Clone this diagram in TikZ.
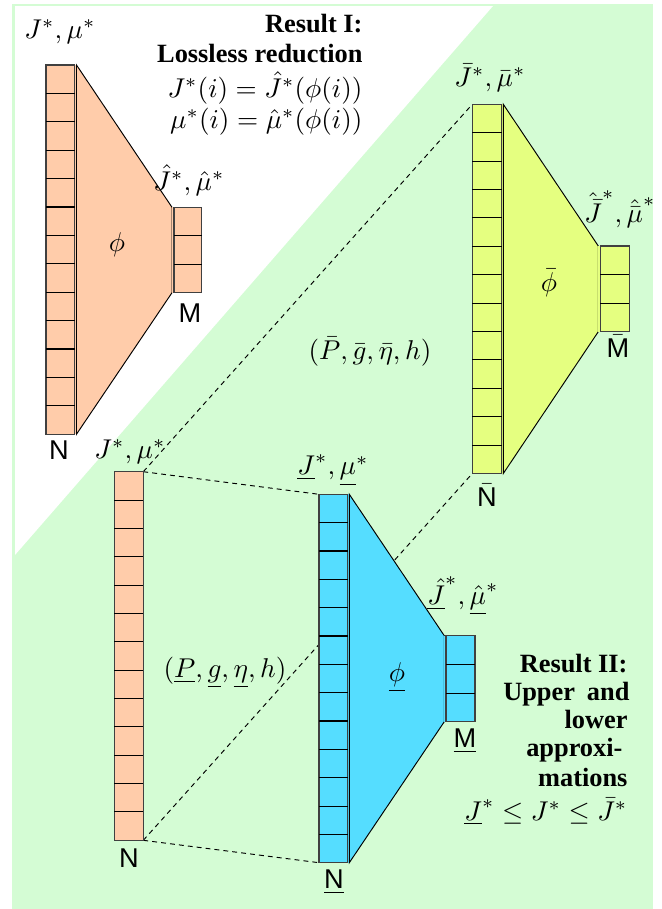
\documentclass[tikz,border=0pt]{standalone}
\usepackage[no-math]{fontspec}
\setmainfont{Liberation Serif}
\setsansfont{Liberation Sans}
\newfontfamily\resfont{Liberation Serif}[BoldFont={Liberation Serif Bold}]
\definecolor{bggreen}{RGB}{212,252,212}
\definecolor{peach}{RGB}{255,204,170}
\definecolor{ylw}{RGB}{229,255,128}
\definecolor{cyanb}{RGB}{85,221,255}
\tikzset{
  dashline/.style={dash pattern=on 1.8pt off 1.5pt, line width=0.35pt},
  lbl/.style={inner sep=0pt},
  rtxt/.style={inner sep=0pt, anchor=base east, font=\resfont\fontsize{9.7}{11}\selectfont\bfseries},
  rmath/.style={inner sep=0pt, anchor=base east},
}
\newcommand\cellcol[7]{% name, x0, y0, x1, h, n, color
  \filldraw[fill=#7, draw=black!75] (#2,#3) rectangle (#4,{#3+#6*#5});
  \pgfmathtruncatemacro\lastk{#6-1}
  \foreach \k in {1,...,\lastk} \draw[black] (#2,{#3+\k*#5}) -- (#4,{#3+\k*#5});
  \coordinate (#1-tl) at (#2,#3);
  \coordinate (#1-tr) at (#4,#3);
  \coordinate (#1-bl) at (#2,{#3+#6*#5});
  \coordinate (#1-br) at (#4,{#3+#6*#5});
}
\newcommand\funnel[7]{% color, xl, ytop, ybot, xr, yt, yb
  \fill[#1] ({#2-2},#3) rectangle (#2,#4);
  \filldraw[fill=#1, draw=black, line width=0.35pt] (#2,#3) -- (#5,#6) -- (#5,#7) -- (#2,#4) -- cycle;
  \fill[#1] (#5,#6) rectangle ({#5+2},#7);
}
\begin{document}
\begin{tikzpicture}[x=0.368pt, y=-0.368pt]
\useasboundingbox (0,0) rectangle (662,909);
% background
\fill[bggreen] (12,4) rectangle (653,909);
\fill[white] (15,6) -- (493,6) -- (15,555) -- cycle;
% end points of the dashed connectors
\coordinate (ob-tr) at (143.3,471.7);
\coordinate (ob-br) at (143.3,840.3);
\coordinate (bl-tl) at (319,494.3);
\coordinate (bl-bl) at (319,862.7);
\coordinate (yl-tl) at (472.3,104.3);
\coordinate (yl-bl) at (472.3,473.5);
\draw[dashline] (ob-tr) -- (bl-tl);
\draw[dashline] (ob-br) -- (bl-bl);
\draw[dashline] (ob-tr) -- (yl-tl);
\draw[dashline] (ob-br) -- (yl-bl);
% top-left group
\funnel{peach}{76.5}{65}{434.2}{172}{207.3}{292.7}
\cellcol{ot}{46}{65}{74.5}{28.4}{13}{peach}
\cellcol{otm}{174}{207.3}{201.7}{28.47}{3}{peach}
% yellow group
\funnel{ylw}{503.3}{104.3}{473.5}{598.3}{246}{331.7}
\cellcol{yl}{472.3}{104.3}{501.5}{28.4}{13}{ylw}
\cellcol{ylm}{600.3}{246}{629.3}{28.57}{3}{ylw}
% bottom orange
\cellcol{ob}{114.3}{471.7}{143.3}{28.35}{13}{peach}
% blue group
\funnel{cyanb}{349.3}{494.3}{862.7}{444.3}{635.7}{721.7}
\cellcol{bl}{319}{494.3}{347.5}{28.34}{13}{cyanb}
\cellcol{blm}{446}{635.7}{475}{28.67}{3}{cyanb}
% labels top-left
\node[lbl] (l1) at (60,32) {$J^*,\mu^*$};
\node[lbl] (l2) at (189,180) {$\hat J^*,\hat\mu^*$};
\node[lbl] (l3) at (117,245) {$\phi$};
\node[lbl] (l4) at (190,313) {\textsf{M}};
\node[lbl] (l5) at (59,450) {\textsf{N}};
% Result I
\node[rtxt] (r1) at (363,32) {Result I:};
\node[rtxt] (r2) at (363,62) {Lossless reduction};
\node[rmath] (r3) at (363,97) {$J^*(i)=\hat J^*(\phi(i))$};
\node[rmath] (r4) at (363,128) {$\mu^*(i)=\hat \mu^*(\phi(i))$};
% yellow labels
\node[lbl] (y1) at (490,78) {$\bar J^*,\bar\mu^*$};
\node[lbl] (y2) at (620,209) {$\hat{\bar J}^*,\hat{\bar\mu}^*$};
\node[lbl] (y3) at (549,283) {$\bar\phi$};
\node[lbl] (y4) at (618,346) {$\bar{\textsf{M}}$};
\node[lbl] (y5) at (487,495) {$\bar{\textsf{N}}$};
\node[lbl] (p1) at (370,352) {$(\bar P,\bar g,\bar\eta,h)$};
% bottom labels
\node[lbl] (o1) at (130,452) {$J^*,\mu^*$};
\node[lbl] (o2) at (129,858) {\textsf{N}};
\node[lbl] (b1) at (333,470) {$\underline{J}^*,\underline{\mu}^*$};
\node[lbl] (b2) at (463,596) {$\underline{\hat J}^*,\underline{\hat\mu}^*$};
\node[lbl] (b3) at (397,677) {$\underline{\phi}$};
\node[lbl] (b4) at (465,741) {$\underline{\textsf{M}}$};
\node[lbl] (b5) at (334,882) {$\underline{\textsf{N}}$};
\node[lbl] (p2) at (225,673) {$(\underline{P},\underline{g},\underline{\eta},h)$};
% Result II
\node[rtxt] (s1) at (628,672.7) {Result II:};
\node[rtxt] (s2) at (630,700) {Upper\hspace{4.4pt}and};
\node[rtxt] (s3) at (628,728.3) {lower};
\node[rtxt] (s4) at (623,756.7) {approxi-};
\node[rtxt] (s5) at (628,786.7) {mations};
\node[rmath] (s6) at (628,820) {$\underline{J}^*\le J^*\le \bar J^*$};
\end{tikzpicture}
\end{document}
